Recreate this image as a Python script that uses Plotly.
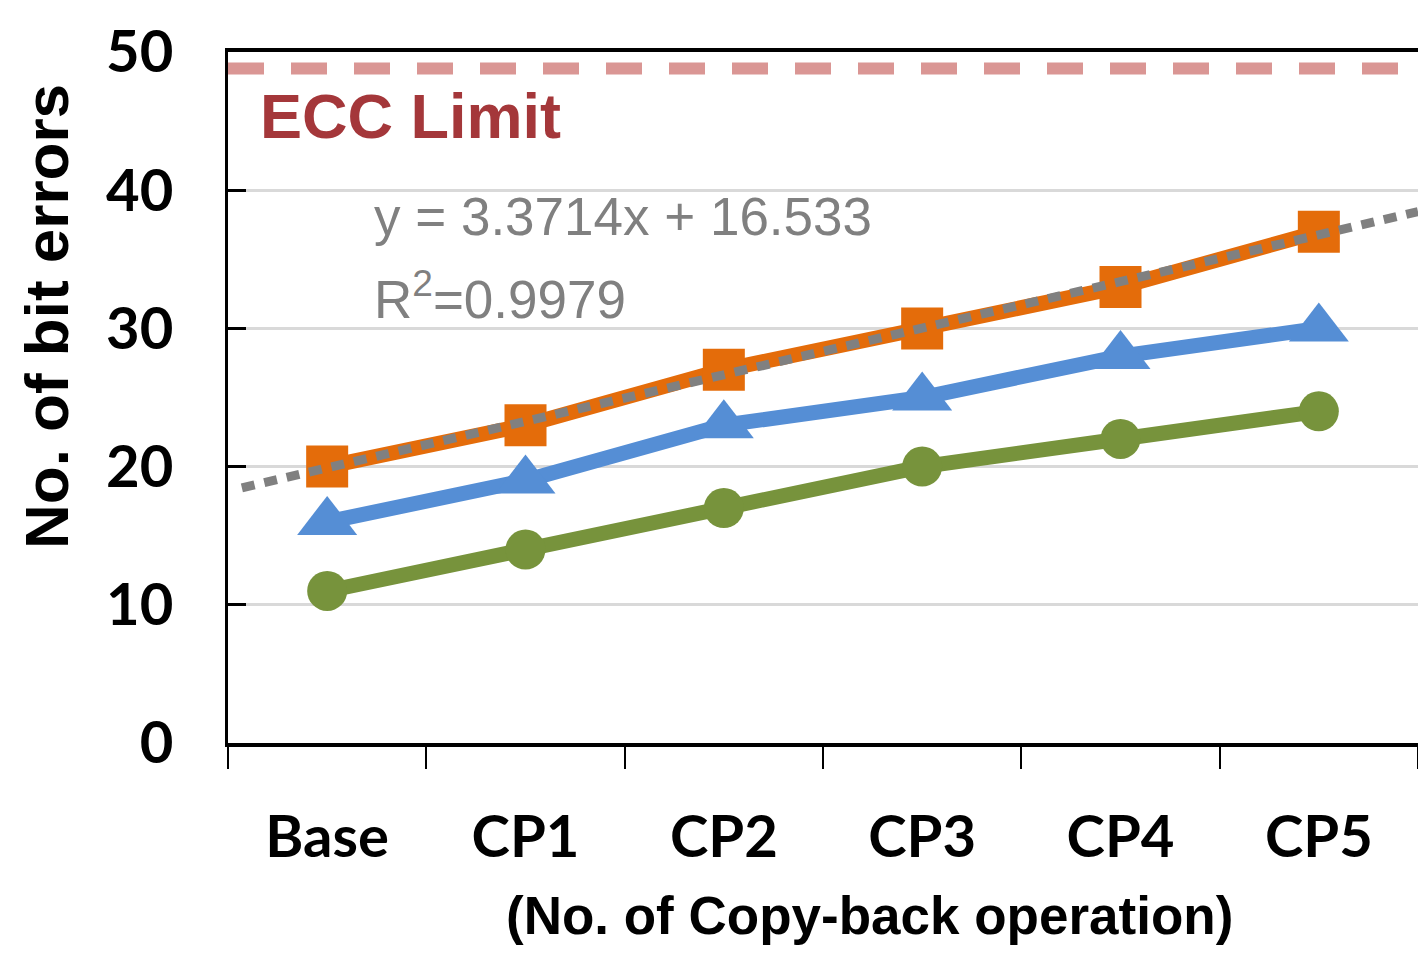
import numpy as np
import plotly.graph_objects as go

categories = ["Base", "CP1", "CP2", "CP3", "CP4", "CP5"]
series_orange = [20, 23, 27, 30, 33, 37]
series_blue = [16, 19, 23, 25, 28, 30]
series_green = [11, 14, 17, 20, 22, 24]
ecc_limit = 48.8
y_ticks = [0, 10, 20, 30, 40, 50]
trend_x_start = -0.43
trend_x_end = 5.5

# linear trendline fitted to the orange series (x = 1..6 as in Excel)
xs = np.arange(1, len(series_orange) + 1)
slope, intercept = np.polyfit(xs, series_orange, 1)
trend_idx = np.array([trend_x_start, trend_x_end])
trend_y = slope * (trend_idx + 1) + intercept

ORANGE = "#E46C0A"
BLUE = "#558ED5"
GREEN = "#77933C"
TICKFONT = dict(family="Lato, sans-serif", size=58, color="black", weight="bold")
ARIAL = "Liberation Sans, Arial, sans-serif"

L, T = 228, 52
PW, PH = 1190, 691

fig = go.Figure()

fig.add_trace(go.Scatter(x=[-0.5, 5.5], y=[ecc_limit, ecc_limit], xaxis="x2", mode="lines",
                         line=dict(color="#DA9694", width=12, dash="36px,27px"),
                         hoverinfo="skip", showlegend=False))

fig.add_trace(go.Scatter(x=categories, y=series_green, mode="lines+markers",
                         line=dict(color=GREEN, width=15),
                         marker=dict(symbol="circle", size=40, color=GREEN),
                         showlegend=False))
fig.add_trace(go.Scatter(x=categories, y=series_blue, mode="lines+markers",
                         line=dict(color=BLUE, width=15),
                         marker=dict(symbol="triangle-up", size=52, color=BLUE),
                         showlegend=False))
fig.add_trace(go.Scatter(x=categories, y=series_orange, mode="lines+markers",
                         line=dict(color=ORANGE, width=15),
                         marker=dict(symbol="square", size=42, color=ORANGE),
                         showlegend=False))

fig.add_trace(go.Scatter(x=trend_idx, y=trend_y, xaxis="x2", mode="lines",
                         line=dict(color="#808080", width=9, dash="13px,10px"),
                         hoverinfo="skip", showlegend=False))

fig.update_layout(
    width=1418, height=956,
    margin=dict(l=L, r=1418 - L - PW, t=T, b=956 - T - PH),
    paper_bgcolor="white", plot_bgcolor="white",
    xaxis=dict(type="category", categoryorder="array", categoryarray=categories,
               range=[-0.5, 5.5], showline=True, linecolor="black", linewidth=4, mirror=True,
               ticks="outside", tickson="boundaries", ticklen=22, tickwidth=2, tickcolor="black",
               showgrid=False, tickfont=TICKFONT, ticklabelstandoff=40, fixedrange=True,
               automargin=False),
    xaxis2=dict(overlaying="x", range=[-0.5, 5.5], visible=False, anchor="y"),
    yaxis=dict(range=[0, 50], tickvals=y_ticks, showgrid=True, gridcolor="#D9D9D9", gridwidth=3,
               showline=True, linecolor="black", linewidth=3, ticks="inside", ticklen=18,
               tickwidth=3, tickcolor="black", zeroline=False, tickfont=TICKFONT,
               ticklabelstandoff=40, automargin=False),
    annotations=[
        dict(text="ECC Limit", x=(258 - 228) / PW, xref="paper", y=45.4, yref="y",
             xanchor="left", yanchor="middle", showarrow=False,
             font=dict(family=ARIAL, size=63, color="#A4373A", weight="bold")),
        dict(text="y = 3.3714x + 16.533", x=(372 - 228) / PW, xref="paper", y=38.1, yref="y",
             xanchor="left", yanchor="middle", showarrow=False,
             font=dict(family=ARIAL, size=53, color="#808080")),
        dict(text="R<sup>2</sup>=0.9979", x=(372 - 228) / PW, xref="paper", y=32.4, yref="y",
             xanchor="left", yanchor="middle", showarrow=False,
             font=dict(family=ARIAL, size=53, color="#808080")),
        dict(text="(No. of Copy-back operation)", x=(869 - 228) / PW, xref="paper",
             y=(743 - 915) / PH, yref="paper", xanchor="center", yanchor="middle",
             showarrow=False,
             font=dict(family=ARIAL, size=53, color="black", weight="bold")),
        dict(text="No. of bit errors", x=(46 - 228) / PW, xref="paper",
             y=(743 - 317) / PH, yref="paper", xanchor="center", yanchor="middle",
             textangle=-90, showarrow=False,
             font=dict(family=ARIAL, size=62, color="black", weight="bold")),
    ],
)

fig.write_html(
    "out.html",
    config={"displayModeBar": False},
    post_script="document.body.style.margin='0';document.body.style.overflow='hidden';",
)
